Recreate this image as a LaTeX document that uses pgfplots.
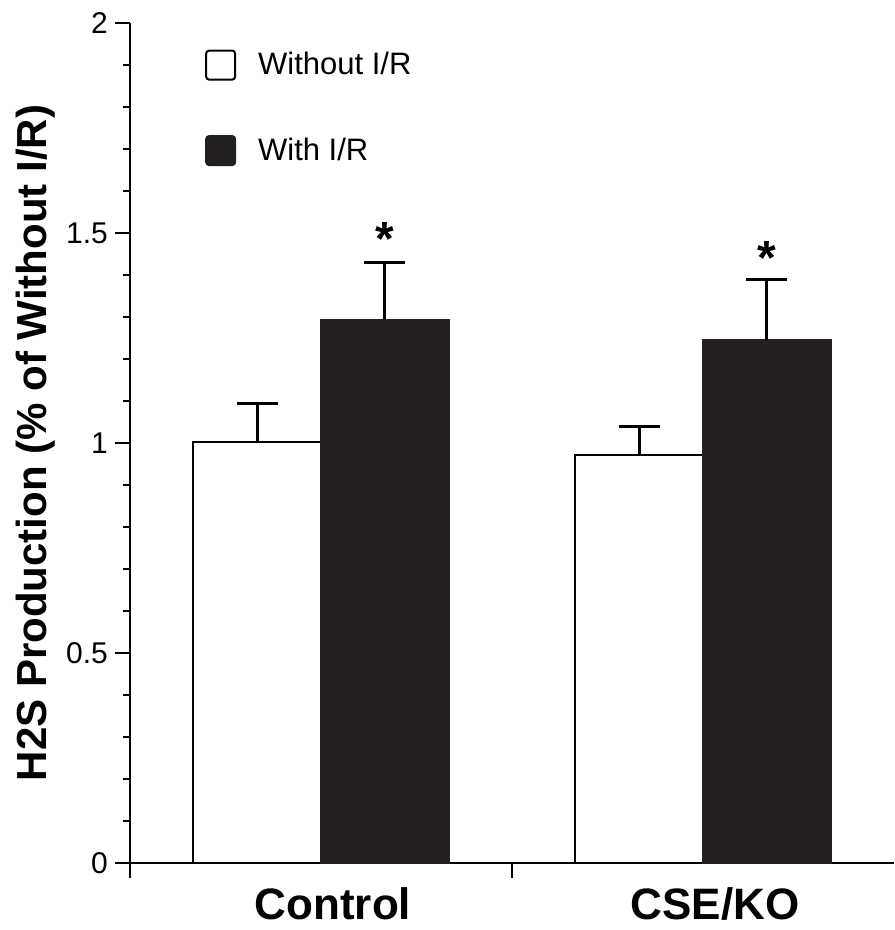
\documentclass[border=0pt]{standalone}
\usepackage{pgfplots}
\pgfplotsset{compat=1.18}
\usepackage{fontspec}
\setmainfont{Liberation Sans}
\definecolor{barblack}{RGB}{35,31,32}

\begin{document}
\begin{tikzpicture}
\begin{axis}[
    at={(0,0)}, anchor=south west,
    scale only axis,
    width=382pt, height=420pt,
    xmin=-0.5, xmax=1.5,
    ymin=0, ymax=2,
    axis x line*=bottom, axis y line*=left,
    axis line style={-, line width=1pt, black},
    tick align=outside,
    tick style={line width=0.9pt, black},
    major tick length=7.5pt,
    minor tick length=3.5pt,
    ytick={0,0.5,1,1.5,2},
    yticklabels={0,0.5,1,1.5,2},
    minor y tick num=4,
    xtick={-0.5,0.5},
    xticklabels={},
    extra x ticks={0,1},
    extra x tick labels={Control,CSE/KO},
    extra x tick style={major tick length=0pt,
        tick label style={font=\bfseries\fontsize{22}{26}\selectfont, yshift=-9pt, xshift=6pt}},
    yticklabel style={font=\fontsize{15}{17}\selectfont},
    ylabel={H2S Production (\% of Without I/R)},
    every axis y label/.style={at={(axis description cs:-0.124,0.5)}, rotate=90, anchor=center,
        font=\bfseries\fontsize{21}{25}\selectfont},
    legend image code/.code={\draw[#1, line width=1pt, rounded corners=1.5pt] (0pt,-7.25pt) rectangle (14.5pt,7.25pt);},
    legend style={draw=none, fill=none, at={(axis description cs:0.09,0.975)}, anchor=north west,
        font=\fontsize{15.5}{18}\selectfont, row sep=26pt,
        /tikz/every odd column/.append style={column sep=9pt}},
    legend cell align=left,
]
% bars placed at their own x (group centre -/+ 0.1675)
\addplot[ybar, bar width=0.335, bar shift=0, fill=white, draw=black, line width=1.2pt,
    error bars/.cd, y dir=plus, y explicit,
    error bar style={line width=1.5pt, black},
    error mark options={rotate=90, mark size=10.25pt, line width=1.5pt, black}]
    coordinates {(-0.1675,1.003) +- (0,0.090) (0.8325,0.972) +- (0,0.068)};
\addlegendentry{Without I/R}
\addplot[ybar, bar width=0.335, bar shift=0, fill=barblack, draw=barblack, line width=1.2pt,
    error bars/.cd, y dir=plus, y explicit,
    error bar style={line width=1.5pt, black},
    error mark options={rotate=90, mark size=10.25pt, line width=1.5pt, black}]
    coordinates {(0.1675,1.292) +- (0,0.137) (1.1675,1.245) +- (0,0.145)};
\addlegendentry{With I/R}
\addplot[draw=none, forget plot, nodes near coords={*},
    every node near coord/.append style={anchor=center, font=\bfseries\fontsize{24}{26}\selectfont}]
    coordinates {(0.1675,1.485) (1.1675,1.44)};
\end{axis}
\pgfresetboundingbox
\path[use as bounding box] (-65pt,-33.5pt) rectangle (382pt,431.5pt);
\end{tikzpicture}
\end{document}
